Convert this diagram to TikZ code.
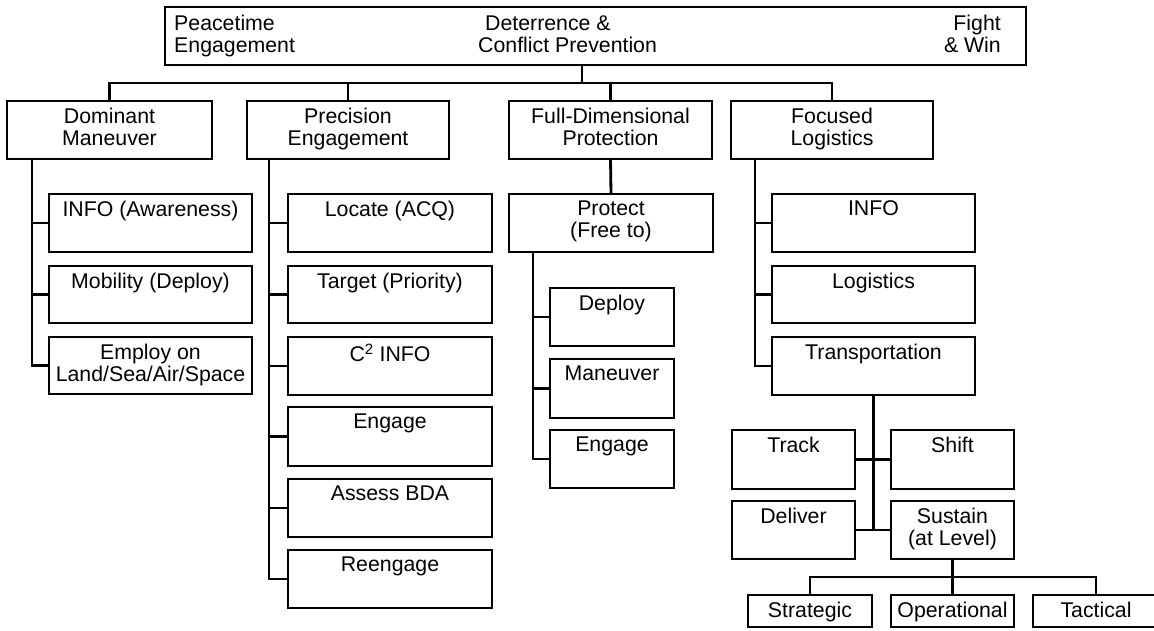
\documentclass[tikz,border=0pt]{standalone}
\usepackage{fontspec}
\setmainfont{Liberation Sans}
\newcommand\mybox[6]{%
  \node[bx, minimum width={#4pt-#2pt}, minimum height={#5pt-#3pt}] (#1) at ({(#2+#4)/2},{(#3+#5)/2}) {};
  \node[tx] (#1t) at ([yshift=-6.5pt]#1.north) {#6};}
\begin{document}
\begin{tikzpicture}[x=1pt,y=-1pt,
  bx/.style={draw, line width=2pt, inner sep=0pt, outer sep=0pt},
  tx/.style={anchor=north, inner sep=0pt, align=center, font=\fontsize{21.3}{22}\selectfont},
  conn/.style={line width=2.8pt}]
\useasboundingbox (0,0) rectangle (1154,630);
% top box
\node[bx, minimum width=861pt, minimum height=58pt] (top) at (595.5,36) {};
\node[tx, anchor=north west, align=left] (t1) at (174,15.3) {Peacetime\\Engagement};
\node[tx, anchor=north west, align=left] (t2) at (478,15.3) {\hspace*{7pt}Deterrence \&\\Conflict Prevention};
\node[tx, anchor=north east, align=right] (t3) at (1001,15.3) {Fight\\\& Win};
% level 1
\mybox{dm}{7}{101}{212}{159}{Dominant\\Maneuver}
\mybox{pe}{247}{101}{449}{159}{Precision\\Engagement}
\mybox{fd}{509}{101}{712}{159}{Full-Dimensional\\Protection}
\mybox{fl}{731}{101}{933}{159}{Focused\\Logistics}
% dominant column
\mybox{inf}{49}{194}{252}{252}{INFO (Awareness)}
\mybox{mob}{49}{266}{252}{323}{Mobility (Deploy)}
\mybox{emp}{49}{337}{252}{394}{Employ on\\Land/Sea/Air/Space}
% precision column
\mybox{loc}{288}{194}{492}{252}{Locate (ACQ)}
\mybox{tgt}{288}{266}{492}{323}{Target (Priority)}
\mybox{ctwo}{288}{337}{492}{395}{C\textsuperscript{2} INFO}
\mybox{eng}{288}{407}{492}{466}{Engage}
\mybox{ass}{288}{479}{492}{537}{Assess BDA}
\mybox{reg}{288}{550}{492}{608}{Reengage}
% protection column
\mybox{pr}{509}{194}{713}{252}{Protect\\(Free to)}
\mybox{dep}{550}{288}{674}{346}{Deploy}
\mybox{man}{550}{359}{674}{418}{Maneuver}
\mybox{engb}{550}{430}{674}{488}{Engage}
% logistics column
\mybox{fi}{772}{194}{975}{252}{INFO}
\mybox{lg}{772}{266}{975}{323}{Logistics}
\mybox{tr}{772}{337}{975}{395}{Transportation}
\mybox{tk}{732}{430}{855}{489}{Track}
\mybox{sh}{891}{430}{1014}{489}{Shift}
\mybox{dl}{732}{501}{855}{559}{Deliver}
\mybox{su}{891}{501}{1014}{559}{Sustain\\(at Level)}
\mybox{st}{748}{595}{872}{627}{Strategic}
\mybox{op}{891}{595}{1014}{627}{Operational}
\mybox{ta}{1033}{595}{1159}{627}{Tactical}
% connectors: top bus
\coordinate (busy) at (0,83);
\path (top.south) ++(-13.5,0) coordinate (topst);
\draw[conn] (topst) -- (topst |- busy);
\draw[conn] (dm.north) -- (dm.north |- busy) -- (fl.north |- busy) -- (fl.north);
\draw[conn] (pe.north) -- (pe.north |- busy);
\draw[conn] (fd.north) -- (fd.north |- busy);
% dominant
\coordinate (dmx) at (32,0);
\draw[conn] (dmx |- dm.south) -- (dmx |- emp.west) -- (emp.west);
\draw[conn] (dmx |- inf.west) -- (inf.west);
\draw[conn] (dmx |- mob.west) -- (mob.west);
% precision
\coordinate (pex) at (269,0);
\draw[conn] (pex |- pe.south) -- (pex |- reg.west) -- (reg.west);
\foreach \n in {loc,tgt,ctwo,eng,ass} \draw[conn] (pex |- \n.west) -- (\n.west);
% protection
\draw[conn] (fd.south) -- (pr.north);
\coordinate (prx) at (533,0);
\draw[conn] (prx |- pr.south) -- (prx |- engb.west) -- (engb.west);
\foreach \n in {dep,man} \draw[conn] (prx |- \n.west) -- (\n.west);
% logistics
\coordinate (flx) at (755,0);
\draw[conn] (flx |- fl.south) -- (flx |- tr.west) -- (tr.west);
\foreach \n in {fi,lg} \draw[conn] (flx |- \n.west) -- (\n.west);
\draw[conn] (tr.south) -- (tr.south |- dl.east);
\draw[conn] (tk.east) -- (sh.west);
\draw[conn] (dl.east) -- (su.west);
% sustain levels
\coordinate (busb) at (0,577);
\draw[conn] (su.south) -- (op.north);
\draw[conn] (st.north) -- (st.north |- busb) -- (ta.north |- busb) -- (ta.north);
\end{tikzpicture}
\end{document}
